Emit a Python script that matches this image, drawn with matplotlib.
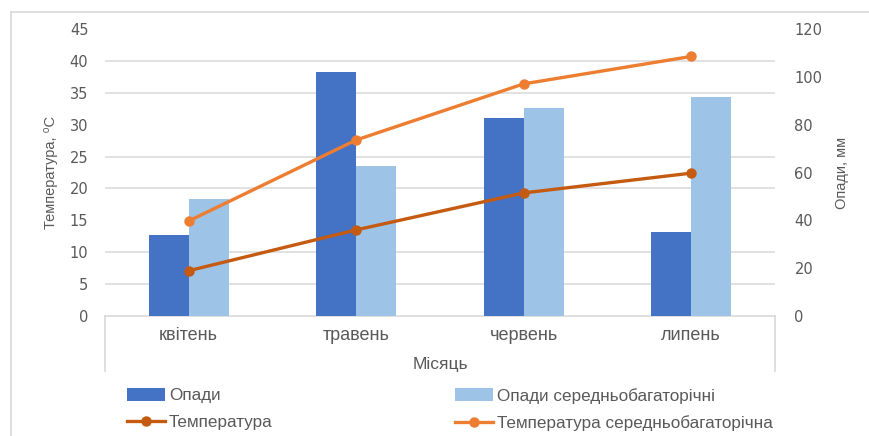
import matplotlib
matplotlib.use("Agg")
import matplotlib.pyplot as plt
import numpy as np
from matplotlib.lines import Line2D
from matplotlib.ticker import FixedLocator

# дані
misyatsi = ["квітень", "травень", "червень", "липень"]
opady = [33.9, 101.9, 82.6, 35.0]
opady_serednie = [48.8, 62.8, 86.8, 91.7]
temperatura = [7.1, 13.5, 19.3, 22.4]
temperatura_serednia = [14.9, 27.6, 36.4, 40.7]

tekst = "#595959"
vuzkyi = ["Liberation Sans", "DejaVu Sans"]

fig = plt.figure(figsize=(8.7, 4.36), dpi=100)
ax = fig.add_axes([105 / 870, 1 - 316 / 436, 670 / 870, 287 / 436])
ax_t = ax.twinx()

x = np.arange(len(misyatsi))
w = 0.24
ax.bar(x - w / 2, opady, w, color="#4472C4", label="Опади", zorder=3)
ax.bar(x + w / 2, opady_serednie, w, color="#9DC3E6", label="Опади середньобагаторічні", zorder=3)
ax.set_ylim(0, 120)
ax.set_xlim(-0.5, len(misyatsi) - 0.5)
ax.yaxis.set_major_locator(FixedLocator(np.arange(0, 121, 20)))
ax.yaxis.set_minor_locator(FixedLocator(np.linspace(0, 120, 10)))
ax.grid(which="minor", axis="y", color="#DCDCDC", linewidth=1.2, zorder=0)
ax.set_axisbelow(True)
ax.yaxis.tick_right()
ax.yaxis.set_label_position("right")
ax.tick_params(axis="y", which="both", length=0, labelsize=10.5, labelcolor=tekst, pad=14)
ax.set_ylabel("Опади, мм", fontsize=10.5, color=tekst, family=vuzkyi, labelpad=9)

ax.set_xticks(x)
ax.set_xticklabels(misyatsi, family=vuzkyi, fontsize=13, color=tekst)
ax.tick_params(axis="x", length=0, pad=8)
ax.set_xlabel("Місяць", family=vuzkyi, fontsize=12.5, color=tekst, labelpad=9)

(l1,) = ax_t.plot(x, temperatura, color="#C55A11", lw=2.4, marker="o", ms=6.5, label="Температура")
(l2,) = ax_t.plot(x, temperatura_serednia, color="#ED7D31", lw=2.4, marker="o", ms=6.5,
                  label="Температура середньобагаторічна")
ax_t.set_ylim(0, 45)
ax_t.set_yticks(np.arange(0, 46, 5))
ax_t.yaxis.tick_left()
ax_t.yaxis.set_label_position("left")
ax_t.tick_params(axis="y", length=0, labelsize=10.5, labelcolor=tekst, pad=12)
ax_t.set_ylabel("Температура, ⁰С", fontsize=10.5, color=tekst, family=vuzkyi, labelpad=8)

for a in (ax, ax_t):
    for s in a.spines.values():
        s.set_visible(False)
ax.spines["bottom"].set_visible(True)
ax.spines["bottom"].set_color("#D9D9D9")
ax.spines["bottom"].set_linewidth(1.2)

# рамка осі категорій
for xp in (105 / 870, 775 / 870):
    fig.add_artist(Line2D([xp, xp], [1 - 316 / 436, 1 - 371 / 436], color="#D9D9D9", lw=1.2))
# рамка діаграми
fig.add_artist(Line2D([11 / 870, 11 / 870], [0, 1 - 12 / 436], color="#D9D9D9", lw=1.2))
fig.add_artist(Line2D([11 / 870, 1], [1 - 12 / 436, 1 - 12 / 436], color="#D9D9D9", lw=1.2))

h = ax.get_legend_handles_labels()[0]
leg_kw = dict(frameon=False, loc="upper left", handlelength=2.2, handleheight=0.8, handletextpad=0.25,
              labelspacing=0.65, borderpad=0, borderaxespad=0, labelcolor=tekst,
              prop={"family": vuzkyi, "size": 12.3})
fig.legend([h[0], l1], ["Опади", "Температура"], bbox_to_anchor=(127 / 870, 1 - 388 / 436), **leg_kw)
fig.legend([h[1], l2], ["Опади середньобагаторічні", "Температура середньобагаторічна"],
           bbox_to_anchor=(455 / 870, 1 - 388 / 436), **leg_kw)

fig.savefig("out.png", dpi=100)
